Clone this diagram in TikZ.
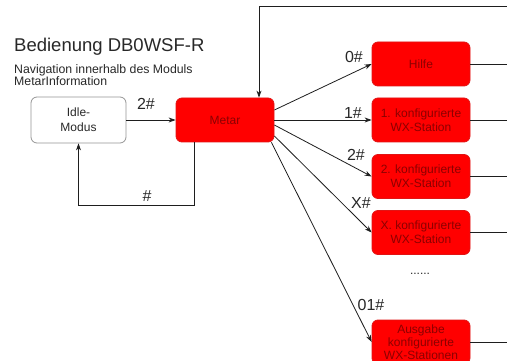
\documentclass[tikz,border=0pt]{standalone}
\usepackage{fontspec}
\setmainfont{Liberation Sans}
\usetikzlibrary{arrows.meta,positioning,calc}
\definecolor{boxred}{RGB}{255,0,0}
\definecolor{boxredline}{RGB}{225,20,20}
\definecolor{boxtext}{RGB}{140,0,0}
\definecolor{idleline}{RGB}{150,150,150}
\definecolor{linecol}{RGB}{30,30,30}
\definecolor{labcol}{RGB}{40,40,40}
\tikzset{
  redbox/.style={draw=boxredline, line width=0.8pt, fill=boxred, rounded corners=6pt,
    minimum width=98pt, minimum height=44pt, inner sep=0pt, align=center,
    text=boxtext, font=\fontsize{12}{14}\selectfont},
  idlebox/.style={draw=idleline, line width=0.8pt, fill=white, rounded corners=6pt,
    minimum width=95pt, minimum height=46pt, inner sep=0pt, align=center,
    text=labcol, font=\fontsize{12}{15}\selectfont},
  conn/.style={draw=linecol, line width=0.8pt},
  arr/.style={conn, -{Stealth[length=7pt,width=5pt]}},
  lab/.style={text=labcol, font=\fontsize{16}{16}\selectfont, inner sep=0pt},
}
\begin{document}
\begin{tikzpicture}[x=1pt,y=-1pt]
\useasboundingbox (0,0) rectangle (507,361);
\clip (0,0) rectangle (507,361);
\fill[white] (0,0) rectangle (507,361);

% titles
\node[anchor=base west, inner sep=0pt, text=labcol, font=\fontsize{18.5}{20}\selectfont] (title) at (14,52) {Bedienung DB0WSF-R};
\node[anchor=base west, inner sep=0pt, text=labcol, font=\fontsize{12.3}{12}\selectfont] (sub1) at (14,74) {Navigation innerhalb des Moduls};
\node[anchor=base west, inner sep=0pt, text=labcol, font=\fontsize{12.3}{12}\selectfont] (sub2) at (14,86) {MetarInformation};

% nodes
\node[idlebox] (idle) at (78.5,120) {Idle-\\Modus};
\node[redbox] (metar) at (225,120) {Metar};
\node[redbox] (hilfe) at (421,64) {Hilfe};
\node[redbox] (ws1) at (421,120) {1. konfigurierte\\WX-Station};
\node[redbox] (ws2) at (421,176.5) {2. konfigurierte\\WX-Station};
\node[redbox] (wsx) at (421,232.5) {X. konfigurierte\\WX-Station};
\node[redbox, font=\fontsize{12}{13}\selectfont] (ausg) at (421,342) {Ausgabe\\konfigurierte\\WX-Stationen};

\coordinate (redge) at (507,0);
\coordinate (topR) at (507,6);

% idle <-> metar
\draw[arr] (idle.east) -- (metar.west);
\node[lab] (l2a) at (146,104) {2\#};
\draw[arr] ([xshift=-31pt]metar.south) -- ++(0,63) -| (idle.south);
\node[lab] (lhash) at (147,196) {\#};

% top return line
\draw[arr] (topR) -| ([xshift=34pt]metar.north);

% metar -> right boxes
\draw[arr] ([yshift=10pt]metar.east) -- (hilfe.west);
\draw[arr] (metar.east) -- (ws1.west);
\draw[arr] ([yshift=-5pt]metar.east) -- (ws2.west);
\draw[arr] ([yshift=-16pt]metar.east) -- (wsx.west);
\draw[arr] ([xshift=-3pt]metar.south east) -- (ausg.west);

\node[lab] (l0) at (354,57) {0\#};
\node[lab] (l1) at (353,113) {1\#};
\node[lab] (l2) at (356,155) {2\#};
\node[lab] (lx) at (361,203) {X\#};
\node[lab] (l01) at (371,305) {01\#};
\node[text=labcol, inner sep=0pt, font=\fontsize{12}{12}\selectfont] (dots) at (420,274) {......};

% outgoing lines to the right
\draw[conn] (hilfe.east) -- (hilfe.east -| redge);
\draw[conn] (ws1.east) -- (ws1.east -| redge);
\draw[conn] (ws2.east) -- (ws2.east -| redge);
\draw[conn] (wsx.east) -- (wsx.east -| redge);
\draw[conn] (ausg.east) -- (ausg.east -| redge);
\end{tikzpicture}
\end{document}
